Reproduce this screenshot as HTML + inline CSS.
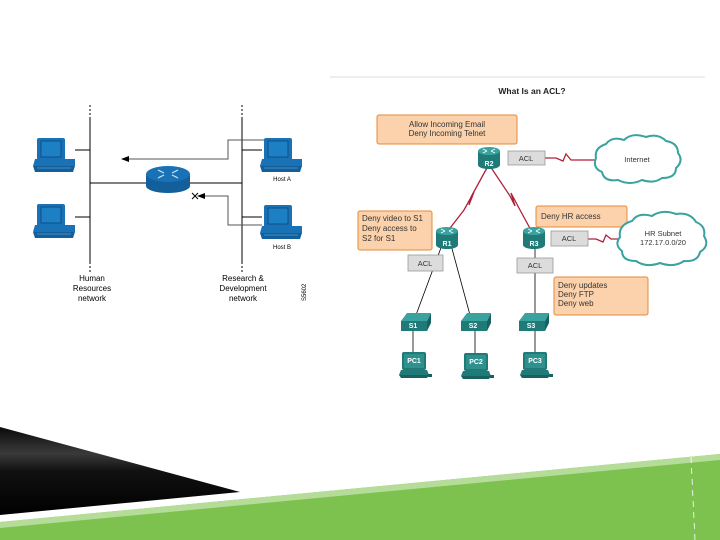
<!DOCTYPE html>
<html><head><meta charset="utf-8"><style>
html,body{margin:0;padding:0;background:#fff;width:720px;height:540px;overflow:hidden}
svg{display:block}
text{font-family:"Liberation Sans",sans-serif}
</style></head><body>
<svg width="720" height="540" viewBox="0 0 720 540" xmlns="http://www.w3.org/2000/svg">
<defs>
<linearGradient id="blk" x1="0" y1="0" x2="0" y2="1">
<stop offset="0" stop-color="#0a0a0a"/><stop offset="0.3" stop-color="#3a3a3a"/><stop offset="0.5" stop-color="#111"/><stop offset="1" stop-color="#000"/></linearGradient>
<g id="pc">
<rect x="4" y="0" width="28" height="23" rx="2" fill="#1a72b6"/>
<rect x="8" y="3" width="20" height="16" fill="#1e80c4" stroke="#0d4f86" stroke-width="1"/>
<polygon points="2,21 42,21 42,28 0,28" fill="#1a72b6"/>
<polygon points="0,28 42,28 40,34 2,34" fill="#135f9c"/>
<line x1="4" y1="30" x2="38" y2="30" stroke="#7fb7e0" stroke-width="0.6"/>
</g>
<g id="rt">
<rect x="-11" y="-6" width="22" height="14" fill="#1f7a78"/>
<ellipse cx="0" cy="8" rx="11" ry="4" fill="#1f7a78"/>
<ellipse cx="0" cy="-6" rx="11" ry="4" fill="#3aa3a0"/>
<path d="M-6,-8 l4,2 M6,-8 l-4,2 M-6,-4 l4,-2 M6,-4 l-4,-2" stroke="#fff" stroke-width="0.8"/>
</g>
<g id="sw">
<polygon points="6,0 30,0 26,8 0,8" fill="#3aa3a0"/>
<rect x="0" y="8" width="26" height="10" fill="#1f7a78"/>
<polygon points="26,8 30,0 30,10 26,18" fill="#17615f"/>
</g>
<g id="tpc">
<rect x="3" y="0" width="24" height="18" rx="2" fill="#1f7a78"/>
<rect x="5" y="2" width="20" height="14" fill="#2e918e"/>
<polygon points="2,18 28,18 30,23 0,23" fill="#1f7a78"/>
<polygon points="0,23 30,23 28,26 2,26" fill="#17615f"/>
<rect x="29" y="22" width="4" height="3" fill="#17615f"/>
</g>
</defs>

<line x1="90" y1="105" x2="90" y2="118" stroke="#000" stroke-dasharray="2,2"/>
<line x1="90" y1="118" x2="90" y2="262" stroke="#000"/>
<line x1="90" y1="262" x2="90" y2="272" stroke="#000" stroke-dasharray="2,2"/>
<line x1="242" y1="105" x2="242" y2="118" stroke="#000" stroke-dasharray="2,2"/>
<line x1="242" y1="118" x2="242" y2="262" stroke="#000"/>
<line x1="242" y1="262" x2="242" y2="272" stroke="#000" stroke-dasharray="2,2"/>
<line x1="75" y1="150" x2="90" y2="150" stroke="#000"/>
<line x1="75" y1="217" x2="90" y2="217" stroke="#000"/>
<line x1="242" y1="150" x2="262" y2="150" stroke="#000"/>
<line x1="242" y1="217" x2="262" y2="217" stroke="#000"/>
<line x1="90" y1="183" x2="242" y2="183" stroke="#000"/>
<polyline points="264,140 228,140 228,159 125,159" fill="none" stroke="#555"/>
<polygon points="121,159 129,156 129,162" fill="#000"/>
<polyline points="262,225 228,225 228,196 200,196" fill="none" stroke="#555"/>
<polygon points="197,196 205,193 205,199" fill="#000"/>
<path d="M192,193 l6,6 M198,193 l-6,6" stroke="#000" stroke-width="1"/>
<rect x="146" y="174" width="44" height="12" fill="#135f9c"/>
<ellipse cx="168" cy="186" rx="22" ry="7" fill="#135f9c"/>
<ellipse cx="168" cy="174" rx="22" ry="8" fill="#1a72b6"/>
<path d="M158,170 l6,3 M178,170 l-6,3 M158,178 l6,-3 M178,178 l-6,-3" stroke="#cfe6f6" stroke-width="1.2"/>
<use href="#pc" x="33" y="138"/>
<use href="#pc" x="33" y="204"/>
<use href="#pc" x="260" y="138"/>
<use href="#pc" x="260" y="205"/>
<text x="282" y="181" font-size="6" text-anchor="middle">Host A</text>
<text x="282" y="249" font-size="6" text-anchor="middle">Host B</text>
<g font-size="8" text-anchor="middle">
<text x="92" y="281">Human</text><text x="92" y="291">Resources</text><text x="92" y="301">network</text>
<text x="243" y="281">Research &amp;</text><text x="243" y="291">Development</text><text x="243" y="301">network</text>
</g>
<text x="0" y="0" font-size="6" transform="translate(306,301) rotate(-90)">S5602</text>

<line x1="330" y1="77" x2="705" y2="77" stroke="#ddd"/>
<text x="532" y="94" font-size="8.5" font-weight="bold" text-anchor="middle" fill="#222">What Is an ACL?</text>

<g fill="#fbd2ac" stroke="#e58a3a" stroke-width="1">
<rect x="377" y="115" width="140" height="29" rx="2"/>
<rect x="358" y="211" width="74" height="39" rx="2"/>
<rect x="536" y="206" width="91" height="21" rx="2"/>
<rect x="554" y="277" width="94" height="38" rx="2"/>
</g>
<g font-size="8" fill="#333">
<text x="447" y="127" text-anchor="middle">Allow Incoming Email</text>
<text x="447" y="136" text-anchor="middle">Deny Incoming Telnet</text>
<text x="362" y="221">Deny video to S1</text>
<text x="362" y="231">Deny access to</text>
<text x="362" y="241">S2 for S1</text>
<text x="541" y="219">Deny HR access</text>
<text x="558" y="288">Deny updates</text>
<text x="558" y="297">Deny FTP</text>
<text x="558" y="306">Deny web</text>
</g>

<g stroke="#b0203a" stroke-width="1.3" fill="none">
<polyline points="488,166 471,197 469,205 474,192 464,210 447,232"/>
<polyline points="490,166 510,196 515,206 511,193 520,210 532,232"/>
<polyline points="545,158 556,158 563,161 566,154 571,160 597,160"/>
<polyline points="588,239 596,239 603,242 606,235 611,239 622,239"/>
</g>
<g stroke="#000" stroke-width="0.8">
<line x1="442" y1="245" x2="416" y2="315"/>
<line x1="451" y1="245" x2="470" y2="315"/>
<line x1="535" y1="245" x2="535" y2="315"/>
<line x1="413" y1="330" x2="413" y2="355"/>
<line x1="475" y1="330" x2="475" y2="355"/>
<line x1="535" y1="330" x2="535" y2="355"/>
</g>
<g fill="#dcdcdc" stroke="#999" stroke-width="0.8">
<rect x="508" y="151" width="37" height="14"/>
<rect x="551" y="231" width="37" height="15"/>
<rect x="408" y="255" width="35" height="16"/>
<rect x="517" y="258" width="36" height="15"/>
</g>
<g font-size="7.5" text-anchor="middle" fill="#333">
<text x="526" y="161">ACL</text><text x="569" y="241">ACL</text>
<text x="425" y="266">ACL</text><text x="535" y="268">ACL</text>
</g>

<g fill="#fff" stroke="#3aa3a0" stroke-width="2">
<path d="M606,144 q6,-8 18,-4 q8,-8 22,-3 q12,-4 20,4 q12,2 12,12 q6,8 -2,15 q0,10 -14,10 q-8,6 -20,2 q-12,6 -24,0 q-14,2 -16,-8 q-10,-4 -6,-14 q-2,-10 10,-14z"/>
<path d="M632,221 q6,-9 20,-5 q10,-7 24,-2 q14,-2 20,8 q10,4 8,14 q6,10 -4,16 q-2,10 -16,9 q-10,7 -24,2 q-14,5 -24,-2 q-14,0 -14,-10 q-8,-6 -2,-14 q-2,-12 12,-16z"/>
</g>
<text x="637" y="162" font-size="7.5" text-anchor="middle" fill="#333">Internet</text>
<text x="663" y="236" font-size="7.5" text-anchor="middle" fill="#333">HR Subnet</text>
<text x="663" y="245" font-size="7.5" text-anchor="middle" fill="#333">172.17.0.0/20</text>

<use href="#rt" x="489" y="157"/>
<use href="#rt" x="447" y="237"/>
<use href="#rt" x="534" y="237"/>
<g font-size="7" font-weight="bold" fill="#fff" text-anchor="middle">
<text x="489" y="166">R2</text><text x="447" y="246">R1</text><text x="534" y="246">R3</text>
</g>
<use href="#sw" x="401" y="313"/>
<use href="#sw" x="461" y="313"/>
<use href="#sw" x="519" y="313"/>
<g font-size="7" font-weight="bold" fill="#fff" text-anchor="middle">
<text x="413" y="328">S1</text><text x="473" y="328">S2</text><text x="531" y="328">S3</text>
</g>
<use href="#tpc" x="399" y="352"/>
<use href="#tpc" x="461" y="353"/>
<use href="#tpc" x="520" y="352"/>
<g font-size="7" font-weight="bold" fill="#fff" text-anchor="middle">
<text x="414" y="363">PC1</text><text x="476" y="364">PC2</text><text x="535" y="363">PC3</text>
</g>

<polygon points="0,427 240,492 0,515" fill="url(#blk)"/>
<polygon points="0,522 720,454 720,540 0,540" fill="#7dc24f"/>
<polygon points="0,522 720,454 720,460 0,528" fill="#b5dc98"/>
<line x1="691" y1="457" x2="695" y2="540" stroke="#fff" stroke-width="0.8" stroke-dasharray="6,5"/>
</svg>
</body></html>
